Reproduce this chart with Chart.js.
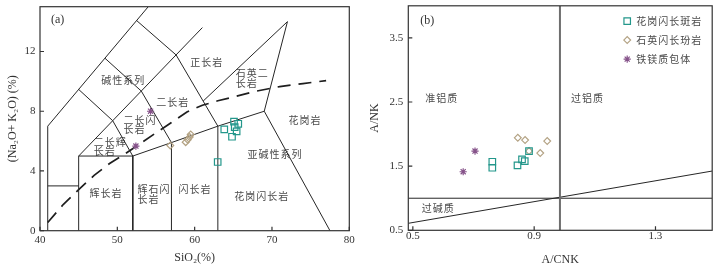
<!DOCTYPE html>
<html><head><meta charset="utf-8">
<script src="https://cdn.jsdelivr.net/npm/chart.js@4.4.1/dist/chart.umd.min.js"></script>
<style>
html,body{margin:0;padding:0;background:#fff;}
#wrap{position:relative;width:718px;height:268px;overflow:hidden;background:#fff;}
canvas{position:absolute;top:0;}
#ca{left:0}#cb{left:359px}
</style></head><body>
<div id="wrap"><canvas id="ca" width="359" height="268"></canvas><canvas id="cb" width="359" height="268"></canvas></div>
<script>
// ---------- tick labels ----------
const sio2Ticks = [40, 50, 60, 70, 80];
const alkTicks = [0, 4, 8, 12];
const acnkTicks = [0.5, 0.9, 1.3];
const ankTicks = [0.5, 1.5, 2.5, 3.5];

// ---------- series ----------
const seriesNames = ['花岗闪长斑岩', '石英闪长玢岩', '铁镁质包体'];

// panel (a): SiO2 vs Na2O+K2O
const grdSiO2 = [62.98, 63.83, 65.09, 65.18, 65.64, 65.43, 64.83];
const grdAlk  = [4.60, 6.78, 7.31, 6.93, 7.16, 6.65, 6.29];
const qdSiO2  = [56.85, 58.84, 59.10, 59.36, 59.49];
const qdAlk   = [5.71, 5.93, 6.09, 6.27, 6.45];
const mmeSiO2 = [54.3, 52.4];
const mmeAlk  = [8.00, 5.67];

// panel (b): A/CNK vs A/NK
const grdACNK = [0.762, 0.762, 0.845, 0.860, 0.869, 0.883];
const grdANK  = [1.569, 1.475, 1.512, 1.606, 1.579, 1.735];
const qdACNK  = [0.846, 0.870, 0.943, 0.920, 0.883];
const qdANK   = [1.942, 1.907, 1.891, 1.704, 1.735];
const mmeACNK = [0.705, 0.666];
const mmeANK  = [1.735, 1.413];

// ---------- TAS field boundaries (SiO2, alkali) ----------
const tasLeft      = [[41,0],[41,7],[54,15]];
const tasStep      = [[41,3],[45,3]];
const tasGabbro    = [[45,0],[45,5],[52,5],[52,0]];
const tasSubBase   = [[52,5],[57,5.9],[63,7],[69,8]];
const tasV57       = [[57,0],[57,5.9]];
const tasV63       = [[63,0],[63,7]];
const tasGranite   = [[69,8],[77.5,0]];
const tasQzMonz    = [[61.1,8.68],[72,14],[69,8]];
const tasMonzLong  = [[45,5],[61,13.6]];
const tasMonzGab   = [[45,9.46],[49.4,7.37],[52,5]];
const tasMonzDio   = [[48.4,11.55],[53.1,9.35],[57,5.9]];
const tasSyenite   = [[52.5,14.07],[57.6,11.77],[63,7]];
const tasAlkSub    = [[41,0.55],[43,1.75],[45,2.75],[47,3.7],[49,4.5],[51,5.15],[53,5.85],[55,6.55],[57,7.25],[59,7.95],[61,8.4],[63,8.7],[65,8.95],[68,9.35],[71,9.65],[74,9.85],[77,10.05]];

// ---------- A/CNK - A/NK boundaries ----------
const acnkMetaPer  = [[0.985,0.5],[0.985,4.0]];
const acnkAlkLine  = [[0.485,1.0],[1.487,1.0]];
const acnkDiag     = [[0.485,0.609],[1.487,1.424]];

// ---------- field names ----------
const tasLabels = [
  {t:'正长岩', x:61.56, y:11.31},
  {t:'石英二', x:65.3, y:10.53, a:'left'},
  {t:'长岩',   x:65.3, y:9.87, a:'left'},
  {t:'碱性系列', x:50.77, y:10.05},
  {t:'二长岩', x:57.16, y:8.6},
  {t:'二长闪', x:50.8, y:7.38, a:'left'},
  {t:'长岩',   x:50.8, y:6.83, a:'left'},
  {t:'二长辉', x:46.95, y:5.93, a:'left'},
  {t:'长岩',   x:46.95, y:5.33, a:'left'},
  {t:'花岗岩', x:74.27, y:7.38},
  {t:'亚碱性系列', x:70.39, y:5.11},
  {t:'辉长岩', x:48.53, y:2.53},
  {t:'辉石闪', x:52.6, y:2.78, a:'left'},
  {t:'长岩',   x:52.6, y:2.11, a:'left'},
  {t:'闪长岩', x:60.04, y:2.76},
  {t:'花岗闪长岩', x:68.67, y:2.31}
];
const acnkLabels = [
  {t:'准铝质', x:0.595, y:2.565},
  {t:'过铝质', x:1.076, y:2.556},
  {t:'过碱质', x:0.584, y:0.852}
];

const pts = (xs, ys) => xs.map((x, i) => ({x, y: ys[i]}));
const line = (arr, extra) => Object.assign({
  data: arr.map(([x, y]) => ({x, y})), showLine: true, pointRadius: 0,
  borderColor: '#262626', borderWidth: 1, fill: false, tension: 0
}, extra || {});

const styles = [
  {pointStyle:'rect', pointRadius:4.6, borderColor:'#23978b'},
  {pointStyle:'rectRot', pointRadius:3.4, borderColor:'#b3a283'},
  {pointStyle:'star', pointRadius:3.6, borderColor:'#86538a'}
];
const scat = (i, xs, ys) => Object.assign({
  label: seriesNames[i], data: pts(xs, ys), showLine: false,
  backgroundColor: 'rgba(0,0,0,0)', borderWidth: 1.2
}, styles[i]);

const deco = {
  id: 'deco',
  beforeDatasetsDraw(chart, args, o) {
    const ctx = chart.ctx, xs = chart.scales.x, ys = chart.scales.y;
    ctx.save();
    ctx.fillStyle = '#4a4a4a';
    ctx.font = '10px "Noto Sans CJK SC"';
    try { ctx.letterSpacing = '1px'; } catch (e) {}
    ctx.textBaseline = 'middle';
    (o.labels || []).forEach(l => {
      ctx.textAlign = l.a || 'center';
      ctx.fillText(l.t, xs.getPixelForValue(l.x), ys.getPixelForValue(l.y));
    });
    ctx.restore();
  },
  afterDraw(chart, args, o) {
    const ctx = chart.ctx, a = chart.chartArea, xs = chart.scales.x, ys = chart.scales.y;
    ctx.save();
    ctx.strokeStyle = '#333'; ctx.lineWidth = 1.2;
    ctx.strokeRect(a.left, a.top, a.right - a.left, a.bottom - a.top);
    ctx.beginPath();
    o.xt.forEach(v => { const p = xs.getPixelForValue(v); ctx.moveTo(p, a.bottom); ctx.lineTo(p, a.bottom - 4); });
    o.yt.forEach(v => { const p = ys.getPixelForValue(v); ctx.moveTo(a.left, p); ctx.lineTo(a.left + 4, p); });
    ctx.stroke();
    ctx.fillStyle = '#333'; ctx.font = '12px "Liberation Serif"';
    ctx.textAlign = 'left'; ctx.textBaseline = 'middle';
    ctx.fillText(o.tag, a.left + o.tagDx, a.top + o.tagDy);
    if (o.legend) {
      ctx.font = '10px "Noto Sans CJK SC"';
      try { ctx.letterSpacing = '1px'; } catch (e) {}
      ctx.fillStyle = '#4a4a4a';
      const ds = chart.data.datasets.slice(0, 3);
      ds.forEach((d, i) => {
        const y = a.top + o.legend.y0 + i * o.legend.dy;
        const x = a.right - o.legend.dxMarker;
        ctx.strokeStyle = d.borderColor; ctx.lineWidth = 1.2;
        ctx.fillStyle = 'rgba(0,0,0,0)';
        if (Chart.helpers && Chart.helpers.drawPoint) {
          Chart.helpers.drawPoint(ctx, {pointStyle: d.pointStyle, radius: d.pointRadius, rotation: 0, borderWidth: 1.2}, x, y);
        }
        ctx.fillStyle = '#4a4a4a';
        ctx.fillText(d.label, x + 9, y);
      });
    }
    ctx.restore();
  }
};

const tickFont = {family: 'Liberation Serif', size: 11};
const titleFont = {family: 'Liberation Serif', size: 12};

function axes(xMin, xMax, xTicks, yMin, yMax, yTicks, xTitle, yTitle, xH, yW, xPad, xTitlePad, yTitlePad, yPad, fmt) {
  return {
    x: {
      type: 'linear', min: xMin, max: xMax,
      afterBuildTicks: s => { s.ticks = xTicks.map(v => ({value: v})); },
      afterFit: s => { s.height = xH; s.paddingLeft = 0; s.paddingRight = 0; },
      grid: {display: false, drawTicks: false}, border: {display: false},
      ticks: {padding: xPad, font: tickFont, color: '#333', maxRotation: 0, autoSkip: false, callback: v => fmt(v)},
      title: {display: true, text: xTitle, font: titleFont, color: '#333', padding: {top: 0, bottom: xTitlePad}}
    },
    y: {
      type: 'linear', min: yMin, max: yMax,
      afterBuildTicks: s => { s.ticks = yTicks.map(v => ({value: v})); },
      afterFit: s => { s.width = yW; s.paddingTop = 0; s.paddingBottom = 0; },
      grid: {display: false, drawTicks: false}, border: {display: false},
      ticks: {padding: yPad, font: tickFont, color: '#333', autoSkip: false, callback: v => fmt(v)},
      title: {display: true, text: yTitle, font: titleFont, color: '#333', padding: {top: yTitlePad, bottom: 0}}
    }
  };
}

Chart.defaults.font.family = 'Liberation Serif';

new Chart(document.getElementById('ca'), {
  type: 'scatter',
  data: {datasets: [
    scat(0, grdSiO2, grdAlk), scat(1, qdSiO2, qdAlk), scat(2, mmeSiO2, mmeAlk),
    line(tasLeft), line(tasStep), line(tasGabbro), line(tasSubBase), line(tasV57), line(tasV63),
    line(tasGranite), line(tasQzMonz), line(tasMonzLong), line(tasMonzGab), line(tasMonzDio), line(tasSyenite),
    line(tasAlkSub, {borderDash: [13, 8], borderWidth: 1.7, borderColor: '#1e1e1e'})
  ]},
  options: {
    responsive: false, animation: false, devicePixelRatio: 1, events: [],
    layout: {padding: {top: 6.7, right: 9.7, left: 0, bottom: 0}},
    plugins: {legend: {display: false}, tooltip: {enabled: false},
      deco: {labels: tasLabels, xt: sio2Ticks, yt: alkTicks, tag: '(a)', tagDx: 11, tagDy: 13.5}},
    scales: axes(40, 80, sio2Ticks, 0, 15, alkTicks, 'SiO₂(%)', '(Na₂O+ K₂O) (%)', 37.3, 40, 3, 2.8, 5.8, 4.5, v => String(v))
  },
  plugins: [deco]
});

new Chart(document.getElementById('cb'), {
  type: 'scatter',
  data: {datasets: [
    scat(0, grdACNK, grdANK), scat(1, qdACNK, qdANK), scat(2, mmeACNK, mmeANK),
    line(acnkMetaPer, {borderColor: '#6e6e6e', borderWidth: 2}),
    line(acnkAlkLine), line(acnkDiag)
  ]},
  options: {
    responsive: false, animation: false, devicePixelRatio: 1, events: [],
    layout: {padding: {top: 5.4, right: 5.5, left: 0, bottom: 0}},
    plugins: {legend: {display: false}, tooltip: {enabled: false},
      deco: {labels: acnkLabels, xt: acnkTicks, yt: ankTicks, tag: '(b)', tagDx: 12, tagDy: 15.3,
             legend: {y0: 15.3, dy: 19, dxMarker: 85}}},
    scales: axes(0.485, 1.487, acnkTicks, 0.5, 4.0, ankTicks, 'A/CNK', 'A/NK', 37.7, 49.3, -1, 0.8, 8.8, 5, v => Number(v).toFixed(1))
  },
  plugins: [deco]
});
</script>
</body></html>
